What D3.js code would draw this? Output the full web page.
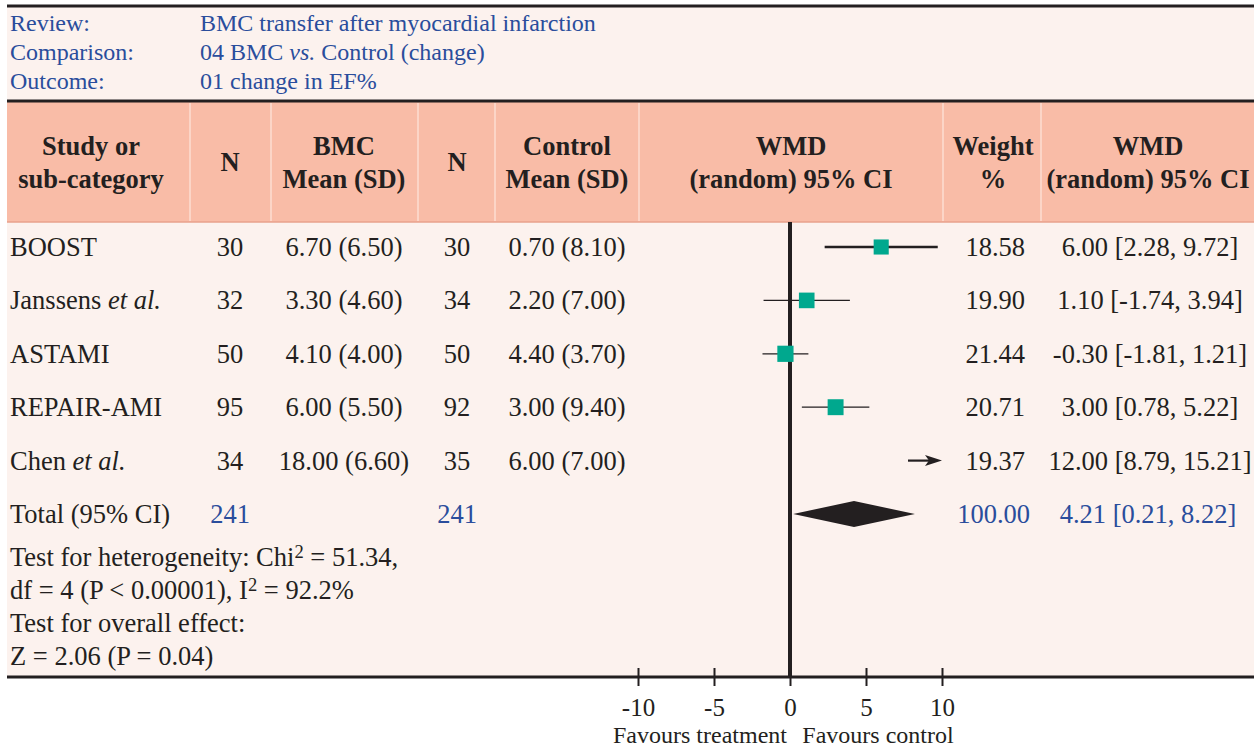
<!DOCTYPE html>
<html>
<head>
<meta charset="utf-8">
<script src="https://cdn.jsdelivr.net/npm/d3@7"></script>
<style>
  body { margin: 0; background: #ffffff; }
  svg { display: block; }
  text { font-family: "Liberation Serif", "DejaVu Serif", serif; }
</style>
</head>
<body>
<div id="chart"></div>
<script>
// info lines at the top
const infoLabels = ["Review:", "Comparison:", "Outcome:"]
const infoValues = [
  [{t: "BMC transfer after myocardial infarction"}],
  [{t: "04 BMC "}, {t: "vs.", i: true}, {t: " Control (change)"}],
  [{t: "01 change in EF%"}]
]

// study rows
const studies = [
  [{t: "BOOST"}],
  [{t: "Janssens "}, {t: "et al.", i: true}],
  [{t: "ASTAMI"}],
  [{t: "REPAIR-AMI"}],
  [{t: "Chen "}, {t: "et al.", i: true}]
]
const nBmc = [30, 32, 50, 95, 34]
const bmcMean = ["6.70 (6.50)", "3.30 (4.60)", "4.10 (4.00)", "6.00 (5.50)", "18.00 (6.60)"]
const nCtrl = [30, 34, 50, 92, 35]
const ctrlMean = ["0.70 (8.10)", "2.20 (7.00)", "4.40 (3.70)", "3.00 (9.40)", "6.00 (7.00)"]
const wmd = [6.00, 1.10, -0.30, 3.00, 12.00]
const ciLow = [2.28, -1.74, -1.81, 0.78, 8.79]
const ciHigh = [9.72, 3.94, 1.21, 5.22, 15.21]
const weights = [18.58, 19.90, 21.44, 20.71, 19.37]

// pooled
const totalN = [241, 241]
const totalW = 100.00
const totalEst = 4.21
const totalLow = 0.21
const totalHigh = 8.22

const axisTicks = [-10, -5, 0, 5, 10]
const footLines = [
  [{t: "Test for heterogeneity: Chi"}, {t: "2", s: true}, {t: " = 51.34,"}],
  [{t: "df = 4 (P < 0.00001), I"}, {t: "2", s: true}, {t: " = 92.2%"}],
  [{t: "Test for overall effect:"}],
  [{t: "Z = 2.06 (P = 0.04)"}]
]

const W = 1260, H = 749
const bg = "#fcf2ee", head = "#f9bca7", ink = "#231f20", blue = "#2a4d9c", green = "#00a88e"
const L = 7, R = 1254

const svg = d3.select("#chart").append("svg").attr("width", W).attr("height", H)

svg.append("rect").attr("x", L).attr("y", 6).attr("width", R - L).attr("height", 671).attr("fill", bg)
svg.append("rect").attr("x", L).attr("y", 102).attr("width", R - L).attr("height", 120).attr("fill", head)

// header column dividers
const dividers = [190, 271, 418, 495, 639, 943, 1041]
svg.selectAll(".div").data(dividers).enter().append("line")
  .attr("x1", d => d).attr("x2", d => d).attr("y1", 103).attr("y2", 221)
  .attr("stroke", "#fde6dd").attr("stroke-width", 1.2)

svg.append("line").attr("x1", L).attr("x2", R).attr("y1", 222).attr("y2", 222).attr("stroke", "#e9a28c").attr("stroke-width", 1.5)
svg.append("line").attr("x1", L).attr("x2", R).attr("y1", 6).attr("y2", 6).attr("stroke", ink).attr("stroke-width", 3)
svg.append("line").attr("x1", L).attr("x2", R).attr("y1", 101).attr("y2", 101).attr("stroke", ink).attr("stroke-width", 3)

function rich(sel, parts) {
  parts.forEach(p => {
    const ts = sel.append("tspan").text(p.t)
    if (p.i) ts.attr("font-style", "italic")
    if (p.s) ts.attr("font-size", "0.7em").attr("baseline-shift", "40%")
  })
  return sel
}

// info block
const fsInfo = 24
infoLabels.forEach((lab, i) => {
  const yy = 31 + i * 29
  svg.append("text").attr("x", 10).attr("y", yy).attr("font-size", fsInfo).attr("fill", blue).text(lab)
  rich(svg.append("text").attr("x", 200).attr("y", yy).attr("font-size", fsInfo).attr("fill", blue), infoValues[i])
})

// table header
const headers = [
  {x: 91, lines: ["Study or", "sub-category"]},
  {x: 230, lines: ["N"]},
  {x: 344, lines: ["BMC", "Mean (SD)"]},
  {x: 457, lines: ["N"]},
  {x: 567, lines: ["Control", "Mean (SD)"]},
  {x: 791, lines: ["WMD", "(random) 95% CI"]},
  {x: 993, lines: ["Weight", "%"]},
  {x: 1148, lines: ["WMD", "(random) 95% CI"]}
]
const fsHead = 26.5
headers.forEach(h => {
  const t = svg.append("text").attr("x", h.x).attr("text-anchor", "middle")
    .attr("font-size", fsHead).attr("font-weight", "bold").attr("fill", ink)
  if (h.lines.length === 1) {
    t.attr("y", 171).text(h.lines[0])
  } else {
    t.attr("y", 155).text(h.lines[0])
    svg.append("text").attr("x", h.x).attr("y", 188).attr("text-anchor", "middle")
      .attr("font-size", fsHead).attr("font-weight", "bold").attr("fill", ink).text(h.lines[1])
  }
})

// scales
const x = d3.scaleLinear().domain([-10, 10]).range([638, 942])
const y = d3.scaleLinear().domain([0, 5]).range([247, 514])
const size = d3.scaleSqrt().domain([0, 25]).range([0, 17.5])

const fs = 26.5
const rowText = (xx, yy, txt, anchor, color) =>
  svg.append("text").attr("x", xx).attr("y", yy + 9).attr("font-size", fs)
    .attr("text-anchor", anchor).attr("fill", color || ink).text(txt)

studies.forEach((s, i) => {
  const yy = y(i)
  rich(svg.append("text").attr("x", 10).attr("y", yy + 9).attr("font-size", fs).attr("fill", ink), s)
  rowText(230, yy, nBmc[i], "middle")
  rowText(344, yy, bmcMean[i], "middle")
  rowText(457, yy, nCtrl[i], "middle")
  rowText(567, yy, ctrlMean[i], "middle")
  rowText(1025, yy, weights[i].toFixed(2), "end")
  rowText(1150, yy, `${wmd[i].toFixed(2)} [${ciLow[i].toFixed(2)}, ${ciHigh[i].toFixed(2)}]`, "middle")
})

// total row
rowText(10, y(5), "Total (95% CI)", "start")
rowText(230, y(5), totalN[0], "middle", blue)
rowText(457, y(5), totalN[1], "middle", blue)
rowText(1030, y(5), totalW.toFixed(2), "end", blue)
rowText(1148, y(5), `${totalEst.toFixed(2)} [${totalLow.toFixed(2)}, ${totalHigh.toFixed(2)}]`, "middle", blue)

// footer text
footLines.forEach((f, i) => {
  rich(svg.append("text").attr("x", 10).attr("y", 566 + i * 33).attr("font-size", fs).attr("fill", ink), f)
})

// zero line
svg.append("line").attr("x1", x(0)).attr("x2", x(0)).attr("y1", 222).attr("y2", 677)
  .attr("stroke", ink).attr("stroke-width", 4)

const [xmin, xmax] = x.domain()
studies.forEach((s, i) => {
  const yy = y(i)
  const lo = Math.max(ciLow[i], xmin), hi = Math.min(ciHigh[i], xmax)
  const clipped = ciHigh[i] > xmax
  // clipped intervals get an arrow of at least ~34px so it reads like the original
  const x1 = clipped ? Math.min(x(lo), x(hi) - 34) : x(lo)
  svg.append("line").attr("x1", x1).attr("x2", clipped ? x(hi) - 8 : x(hi)).attr("y1", yy).attr("y2", yy)
    .attr("stroke", ink).attr("stroke-width", i === 0 ? 2.5 : (clipped ? 2.2 : 1.2))
  if (clipped) {
    const xe = x(hi)
    svg.append("path")
      .attr("d", `M${xe - 17},${yy - 5.5} L${xe},${yy} L${xe - 17},${yy + 5.5} L${xe - 13},${yy} Z`)
      .attr("fill", ink)
  }
  if (wmd[i] <= xmax) {
    const sz = size(weights[i])
    svg.append("rect").attr("x", x(wmd[i]) - sz / 2).attr("y", yy - sz / 2)
      .attr("width", sz).attr("height", sz).attr("fill", green)
  }
})

// pooled diamond
const dy = y(5)
svg.append("path")
  .attr("d", `M${x(totalLow)},${dy} L${x(totalEst)},${dy - 13} L${x(totalHigh)},${dy} L${x(totalEst)},${dy + 13} Z`)
  .attr("fill", ink)

// bottom line + axis
svg.append("line").attr("x1", L).attr("x2", R).attr("y1", 677).attr("y2", 677).attr("stroke", ink).attr("stroke-width", 3)
const ax = svg.append("g").attr("transform", "translate(0,677)")
  .call(d3.axisBottom(x).tickValues(axisTicks).tickFormat(d => String(d)).tickSize(9))
ax.select(".domain").remove()
ax.selectAll(".tick line").attr("y1", -9).attr("y2", 9).attr("stroke", ink).attr("stroke-width", 2)
ax.selectAll(".tick text").attr("y", 39).attr("dy", 0)
  .attr("font-size", 25).attr("font-family", "Liberation Serif").attr("fill", ink)

svg.append("text").attr("x", 700).attr("y", 743).attr("font-size", 24).attr("text-anchor", "middle").attr("fill", ink).text("Favours treatment")
svg.append("text").attr("x", 878).attr("y", 743).attr("font-size", 24).attr("text-anchor", "middle").attr("fill", ink).text("Favours control")
</script>
</body>
</html>
